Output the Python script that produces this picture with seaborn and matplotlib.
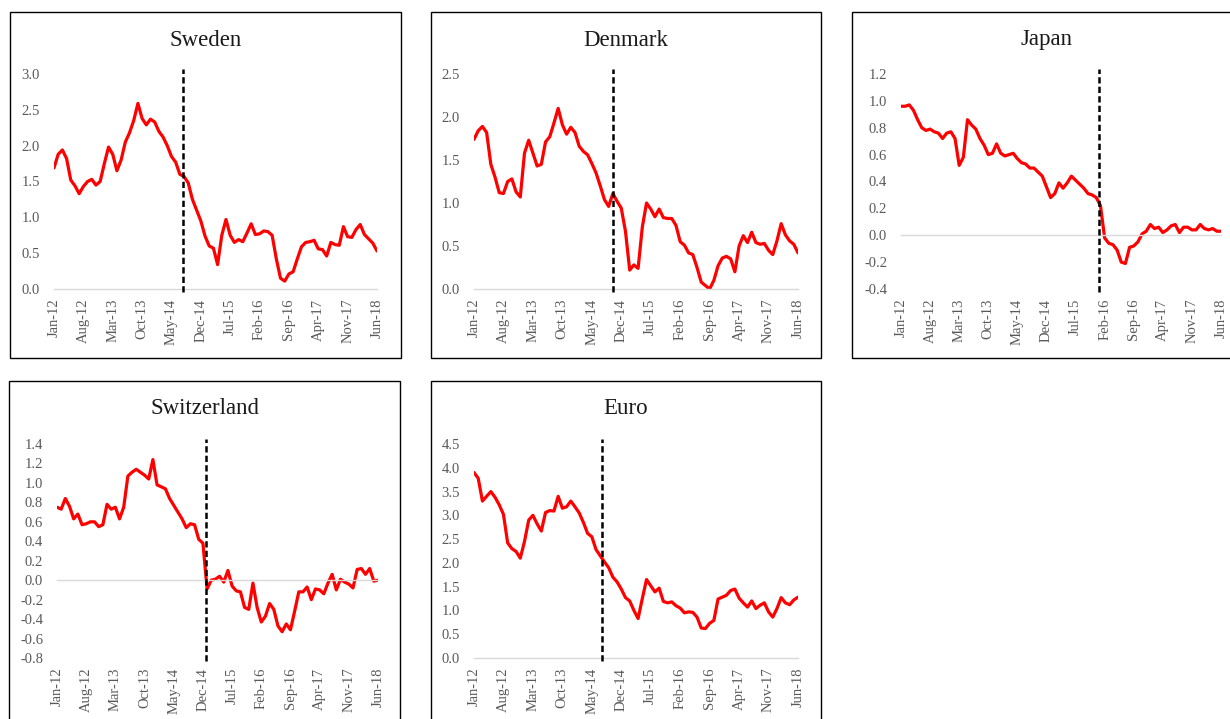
import matplotlib
matplotlib.use('Agg')
import matplotlib.pyplot as plt
import matplotlib.ticker as mticker
from matplotlib.patches import Rectangle
import numpy as np
import seaborn as sns

# monthly series, Jan-12 .. Jun-18 (78 months)
months = np.arange(78)
tick_pos = list(range(0, 78, 7))
tick_labels = ['Jan-12', 'Aug-12', 'Mar-13', 'Oct-13', 'May-14', 'Dec-14',
               'Jul-15', 'Feb-16', 'Sep-16', 'Apr-17', 'Nov-17', 'Jun-18']

sweden = [1.69, 1.88, 1.94, 1.82, 1.52, 1.44, 1.33, 1.43, 1.50, 1.53,
          1.45, 1.50, 1.75, 1.98, 1.88, 1.65, 1.80, 2.05, 2.18, 2.35,
          2.59, 2.38, 2.29, 2.37, 2.33, 2.20, 2.12, 2.00, 1.85, 1.77,
          1.60, 1.57, 1.48, 1.25, 1.10, 0.95, 0.74, 0.60, 0.57, 0.34,
          0.75, 0.97, 0.75, 0.65, 0.69, 0.66, 0.78, 0.91, 0.76, 0.77,
          0.81, 0.80, 0.75, 0.42, 0.15, 0.11, 0.21, 0.24, 0.42, 0.59,
          0.65, 0.66, 0.68, 0.56, 0.55, 0.46, 0.65, 0.62, 0.61, 0.87,
          0.73, 0.72, 0.83, 0.90, 0.76, 0.70, 0.64, 0.53]

denmark = [1.74, 1.84, 1.89, 1.82, 1.45, 1.30, 1.12, 1.11, 1.25, 1.28,
           1.13, 1.07, 1.58, 1.73, 1.58, 1.43, 1.45, 1.71, 1.77, 1.93,
           2.10, 1.91, 1.80, 1.88, 1.82, 1.66, 1.60, 1.56, 1.46, 1.35,
           1.20, 1.04, 0.96, 1.11, 1.02, 0.94, 0.67, 0.22, 0.28, 0.24,
           0.72, 1.00, 0.93, 0.84, 0.93, 0.83, 0.82, 0.82, 0.74, 0.55,
           0.51, 0.42, 0.40, 0.25, 0.08, 0.04, 0.00, 0.10, 0.27, 0.36,
           0.38, 0.35, 0.20, 0.50, 0.62, 0.54, 0.66, 0.54, 0.52, 0.53,
           0.45, 0.40, 0.56, 0.76, 0.63, 0.56, 0.52, 0.42]

japan = [0.96, 0.96, 0.97, 0.93, 0.86, 0.80, 0.78, 0.79, 0.77, 0.76,
         0.72, 0.76, 0.77, 0.72, 0.52, 0.58, 0.86, 0.82, 0.79, 0.72,
         0.67, 0.60, 0.61, 0.68, 0.61, 0.59, 0.60, 0.61, 0.57, 0.54,
         0.53, 0.50, 0.50, 0.47, 0.44, 0.36, 0.28, 0.31, 0.39, 0.35,
         0.39, 0.44, 0.41, 0.38, 0.35, 0.31, 0.30, 0.28, 0.22, -0.02,
         -0.06, -0.07, -0.11, -0.20, -0.21, -0.09, -0.08, -0.05, 0.01, 0.03,
         0.08, 0.05, 0.06, 0.02, 0.04, 0.07, 0.08, 0.02, 0.06, 0.06,
         0.04, 0.04, 0.08, 0.05, 0.04, 0.05, 0.03, 0.03]

switzerland = [0.75, 0.73, 0.84, 0.76, 0.63, 0.68, 0.57, 0.58, 0.60, 0.60,
               0.55, 0.57, 0.78, 0.73, 0.75, 0.63, 0.75, 1.07, 1.11, 1.14,
               1.11, 1.08, 1.04, 1.24, 0.98, 0.96, 0.94, 0.84, 0.77, 0.70,
               0.63, 0.54, 0.58, 0.57, 0.42, 0.38, -0.09, 0.00, 0.01, 0.04,
               -0.02, 0.10, -0.06, -0.11, -0.12, -0.28, -0.30, -0.03, -0.28, -0.43,
               -0.37, -0.24, -0.30, -0.47, -0.53, -0.45, -0.51, -0.32, -0.12, -0.12,
               -0.07, -0.20, -0.09, -0.10, -0.14, -0.03, 0.06, -0.10, 0.01, -0.02,
               -0.04, -0.08, 0.11, 0.12, 0.06, 0.12, -0.01, 0.00]

euro = [3.90, 3.78, 3.30, 3.40, 3.50, 3.38, 3.22, 3.02, 2.42, 2.30,
        2.24, 2.10, 2.45, 2.90, 3.00, 2.82, 2.67, 3.06, 3.10, 3.09,
        3.40, 3.15, 3.18, 3.30, 3.18, 3.05, 2.85, 2.62, 2.55, 2.28,
        2.15, 2.02, 1.90, 1.70, 1.60, 1.45, 1.27, 1.20, 1.00, 0.83,
        1.25, 1.65, 1.52, 1.39, 1.47, 1.19, 1.16, 1.18, 1.10, 1.05,
        0.95, 0.97, 0.96, 0.86, 0.63, 0.62, 0.73, 0.79, 1.24, 1.28,
        1.32, 1.42, 1.45, 1.26, 1.16, 1.07, 1.20, 1.04, 1.11, 1.16,
        0.97, 0.86, 1.04, 1.27, 1.16, 1.12, 1.22, 1.28]

titles = ['Sweden', 'Denmark', 'Japan', 'Switzerland', 'Euro']
series = [sweden, denmark, japan, switzerland, euro]
# month position of the dashed marker in each panel
events = [30.75, 33.1, 47.7, 35.7, 30.5]
ylims = [(0, 3.0), (0, 2.5), (-0.4, 1.2), (-0.8, 1.4), (0, 4.5)]
ysteps = [0.5, 0.5, 0.2, 0.2, 0.5]

# layout in pixels: axes (left, right, top, bottom), frame (x0, y0, x1, y1), title y
W, H = 1230, 719
axes_px = [(54, 377, 74, 289), (474, 798, 74, 289), (901, 1221, 74, 289),
           (57, 378, 444, 658), (474, 798, 444, 658)]
frames_px = [(10, 12, 401, 358), (431, 12, 821, 358), (852, 12, 1241, 358),
             (9, 381, 400, 727), (431, 381, 821, 727)]
title_y = [40, 40, 40, 408, 408]

sns.set_style('white')
plt.rcParams['font.family'] = ['Liberation Serif', 'DejaVu Serif']
plt.rcParams['axes.unicode_minus'] = False

fig = plt.figure(figsize=(W / 100, H / 100), dpi=100)

for i in range(5):
    l, r, t, b = axes_px[i]
    ax = fig.add_axes([l / W, 1 - b / H, (r - l) / W, (b - t) / H])
    sns.lineplot(x=months, y=series[i], ax=ax, color='#FF0000', linewidth=2.3)
    ax.axvline(events[i], ymin=-0.012, ymax=1.025, color='black', lw=1.8,
               ls=(0, (2.5, 1.3)), clip_on=False, zorder=3)

    ax.set_xlim(0, 77)
    lo, hi = ylims[i]
    ax.set_ylim(lo, hi)
    yt = np.round(np.arange(lo, hi + 1e-6, ysteps[i]), 2) + 0.0
    ax.set_yticks(yt, labels=['%.1f' % v if abs(v) > 1e-9 else '0.0' for v in yt])
    ax.tick_params(axis='y', length=0, pad=10, labelsize=10.5, labelcolor='#595959')

    for s in ['left', 'top', 'right']:
        ax.spines[s].set_visible(False)
    ax.spines['bottom'].set_position(('data', 0))
    ax.spines['bottom'].set_color('#D9D9D9')
    ax.spines['bottom'].set_linewidth(1.0)
    ax.set_xticks(tick_pos)
    ax.tick_params(axis='x', direction='out', length=5, width=1.0,
                   color='#D9D9D9', labelbottom=False)
    ax.set_xlabel('')
    ax.set_ylabel('')

    sec = ax.secondary_xaxis(0)
    sec.set_xticks(tick_pos, labels=tick_labels)
    sec.tick_params(length=0, pad=7, labelsize=10.5, labelcolor='#595959',
                    labelrotation=90)
    sec.spines['bottom'].set_visible(False)

    x0, y0, x1, y1 = frames_px[i]
    fig.add_artist(Rectangle((x0 / W, 1 - y1 / H), (x1 - x0) / W, (y1 - y0) / H,
                             transform=fig.transFigure, fill=False,
                             edgecolor='black', linewidth=1.0))
    fig.text((x0 + x1) / 2 / W, 1 - title_y[i] / H, titles[i], ha='center',
             va='center', fontsize=16.5, color='#1a1a1a')

fig.savefig('out.png', dpi=100)
